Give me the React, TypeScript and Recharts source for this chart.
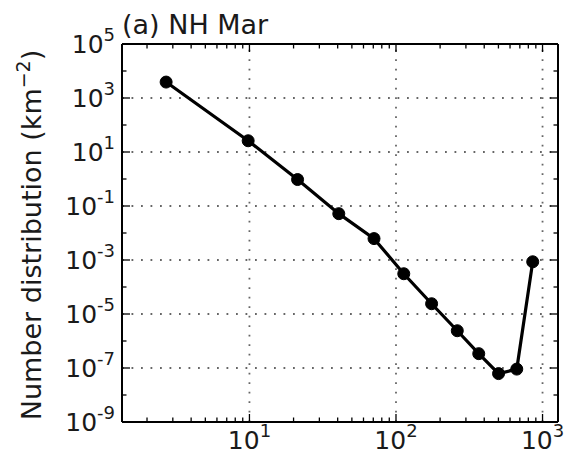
import React from "react";
import { LineChart, Line, XAxis, YAxis, ReferenceLine } from "recharts";

const sizes = [2.7, 9.8, 21.3, 40.7, 70.8, 113, 175, 262, 367, 501, 667, 857];
const density = [3890, 26.1, 0.955, 0.052, 0.0062, 3.1e-4, 2.4e-5, 2.4e-6, 3.4e-7, 6.2e-8, 9.1e-8, 8.6e-4];

const xTicks = [2, 3, 4, 5, 6, 7, 8, 9, 10, 20, 30, 40, 50, 60, 70, 80, 90, 100, 200, 300, 400, 500, 600, 700, 800, 900, 1000];
const yExps = [-9, -8, -7, -6, -5, -4, -3, -2, -1, 0, 1, 2, 3, 4, 5];
const yTicks = yExps.map((e) => Math.pow(10, e));
const xGrid = [10, 100, 1000];
const yGrid = [1e-7, 1e-5, 1e-3, 1e-1, 1e1, 1e3];

const data = sizes.map((s, i) => ({ x: s, y: density[i] }));

const FONT = "DejaVu Sans";

const isMajorX = (v: number) => Math.abs(Math.log10(v) - Math.round(Math.log10(v))) < 1e-6;
const expOf = (v: number) => Math.round(Math.log10(v));

const BottomTick = (props: any) => {
  const { x, y, payload } = props;
  const v = payload.value;
  const major = isMajorX(v);
  return (
    <g>
      <line x1={x} y1={y} x2={x} y2={y - (major ? 8 : 4.5)} stroke="#000" strokeWidth={1.3} />
      {major && (
        <text x={x} y={y + 27} textAnchor="middle" fontFamily={FONT} fontSize={25} fill="#1a1a1a">
          10
          <tspan dy={-12} fontSize={18}>{String(expOf(v))}</tspan>
        </text>
      )}
    </g>
  );
};

const TopTick = (props: any) => {
  const { x, y, payload } = props;
  const major = isMajorX(payload.value);
  return <line x1={x} y1={y} x2={x} y2={y + (major ? 8 : 4.5)} stroke="#000" strokeWidth={1.3} />;
};

const LeftTick = (props: any) => {
  const { x, y, payload } = props;
  const e = expOf(payload.value);
  const major = Math.abs(e) % 2 === 1;
  return (
    <g>
      <line x1={x} y1={y} x2={x + (major ? 8 : 4.5)} y2={y} stroke="#000" strokeWidth={1.3} />
      {major && (
        <text x={x - 7} y={y + 9} textAnchor="end" fontFamily={FONT} fontSize={25} fill="#1a1a1a">
          10
          <tspan dy={-12} fontSize={18}>{String(e)}</tspan>
        </text>
      )}
    </g>
  );
};

const RightTick = (props: any) => {
  const { x, y, payload } = props;
  const e = expOf(payload.value);
  const major = Math.abs(e) % 2 === 1;
  return <line x1={x} y1={y} x2={x - (major ? 8 : 4.5)} y2={y} stroke="#000" strokeWidth={1.3} />;
};

export default function App() {
  return (
    <div style={{ position: "absolute", left: 0, top: 0, width: 567, height: 457, background: "#fff" }}>
      <LineChart width={567} height={457} data={data} margin={{ top: 43, right: 8, bottom: 0, left: 42 }}>
        <XAxis
          xAxisId="b"
          dataKey="x"
          type="number"
          scale="log"
          domain={[1.35, 1275]}
          allowDataOverflow
          ticks={xTicks}
          interval={0}
          tickLine={false}
          tickSize={0}
          tickMargin={0}
          height={35}
          axisLine={{ stroke: "#000", strokeWidth: 2 }}
          tick={<BottomTick />}
        />
        <XAxis
          xAxisId="t"
          orientation="top"
          dataKey="x"
          type="number"
          scale="log"
          domain={[1.35, 1275]}
          allowDataOverflow
          ticks={xTicks}
          interval={0}
          tickLine={false}
          tickSize={0}
          tickMargin={0}
          height={1}
          axisLine={{ stroke: "#000", strokeWidth: 2 }}
          tick={<TopTick />}
        />
        <YAxis
          yAxisId="l"
          type="number"
          scale="log"
          domain={[1e-9, 1e5]}
          allowDataOverflow
          ticks={yTicks}
          interval={0}
          tickLine={false}
          tickSize={0}
          tickMargin={0}
          width={80}
          axisLine={{ stroke: "#000", strokeWidth: 2 }}
          tick={<LeftTick />}
        />
        <YAxis
          yAxisId="r"
          orientation="right"
          type="number"
          scale="log"
          domain={[1e-9, 1e5]}
          allowDataOverflow
          ticks={yTicks}
          interval={0}
          tickLine={false}
          tickSize={0}
          tickMargin={0}
          width={1}
          axisLine={{ stroke: "#000", strokeWidth: 2 }}
          tick={<RightTick />}
        />
        {xGrid.map((g) => (
          <ReferenceLine key={"gx" + g} xAxisId="b" yAxisId="l" x={g} stroke="#666" strokeWidth={1.8} strokeDasharray="1.8 7.7" />
        ))}
        {yGrid.map((g) => (
          <ReferenceLine key={"gy" + g} xAxisId="b" yAxisId="l" y={g} stroke="#666" strokeWidth={1.8} strokeDasharray="1.8 7.7" />
        ))}
        <Line
          xAxisId="b"
          yAxisId="l"
          dataKey="y"
          type="linear"
          stroke="#000"
          strokeWidth={3.2}
          dot={{ r: 6, fill: "#000", stroke: "#000", strokeWidth: 1 }}
          isAnimationActive={false}
        />
      </LineChart>
      <svg width={567} height={457} style={{ position: "absolute", left: 0, top: 0, pointerEvents: "none" }}>
        <text x={122} y={34} fontFamily={FONT} fontSize={27} fill="#1a1a1a">(a) NH Mar</text>
        <text transform="translate(41,235) rotate(-90)" textAnchor="middle" fontFamily={FONT} fontSize={27} fill="#1a1a1a">
          Number distribution (km
          <tspan dy={-11} fontSize={19}>−2</tspan>
          <tspan dy={11}>)</tspan>
        </text>
      </svg>
    </div>
  );
}
